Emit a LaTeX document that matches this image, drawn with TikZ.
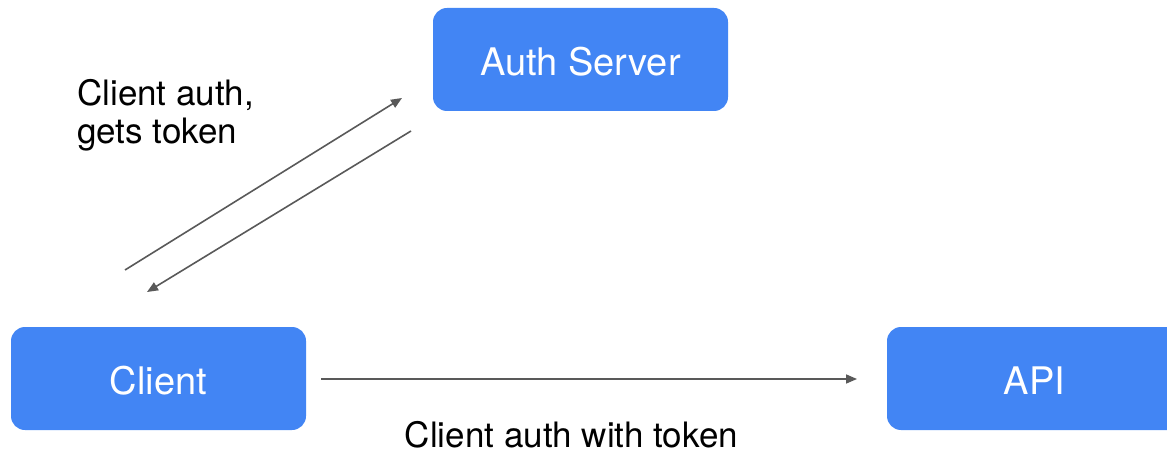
\documentclass[tikz,border=0pt]{standalone}
\usepackage{fontspec}
\setmainfont{TeX Gyre Heros}
\usetikzlibrary{arrows.meta}
\definecolor{boxblue}{HTML}{4285F4}
\definecolor{linegray}{HTML}{595959}
\tikzset{
  box/.style={fill=boxblue, draw=none, rounded corners=14pt, minimum width=295pt, minimum height=103pt,
    text=white, font=\fontsize{38}{40}\selectfont, text height=32pt, text depth=0pt, inner sep=0pt},
  conn/.style={draw=linegray, line width=1.6pt, -{Triangle[length=11pt,width=9pt]}},
  lbl/.style={text=black, inner sep=0pt, font=\fontsize{35}{38}\selectfont}
}
\begin{document}
\begin{tikzpicture}[x=1pt,y=-1pt]
\useasboundingbox (0,0) rectangle (1167,457);
\clip (0,0) rectangle (1167,457);
\node[box] (auth) at (580.5,59.5) {Auth Server};
\node[box] (client) at (158.5,378.5) {Client};
\node[box] (api) at (1034.5,378.5) {API};
\coordinate (a1s) at (125,270);
\coordinate (a1e) at (402,98);
\coordinate (a2s) at (411,131);
\coordinate (a2e) at (147,292);
\coordinate (a3s) at (321,379);
\coordinate (a3e) at (857,379);
\draw[conn] (a1s) -- (a1e);
\draw[conn] (a2s) -- (a2e);
\draw[conn] (a3s) -- (a3e);
\node[lbl, align=left, anchor=north west] (l1) at (77,79) {Client auth,\\gets token};
\node[lbl, anchor=base] (l2) at (571.5,447) {Client auth with token};
\end{tikzpicture}
\end{document}
